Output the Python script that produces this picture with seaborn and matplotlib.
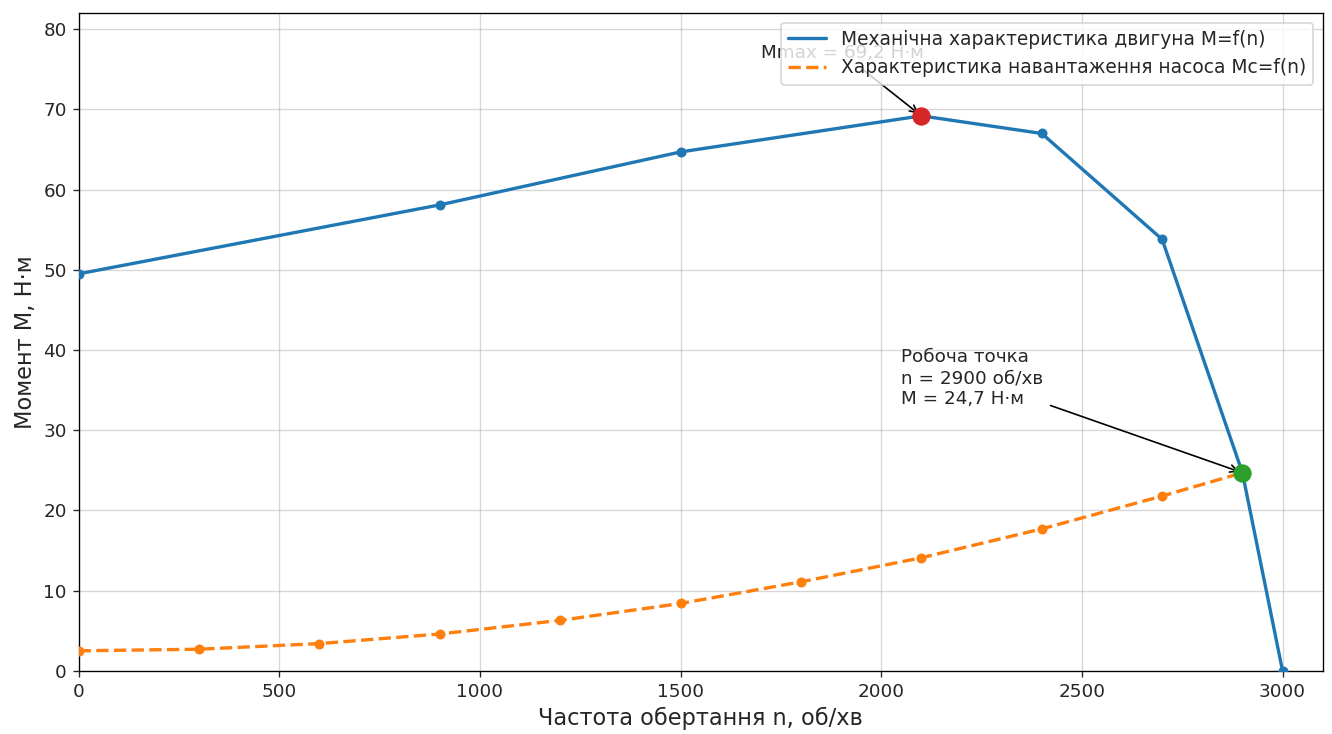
import numpy as np
import pandas as pd
import seaborn as sns
import matplotlib.pyplot as plt

# motor mechanical characteristic M=f(n)
n_motor = [0, 900, 1500, 2100, 2400, 2700, 2900, 3000]
m_motor = [49.5, 58.1, 64.7, 69.2, 67.0, 53.8, 24.7, 0.0]

# pump load characteristic Mc=f(n)
n_pump = [0, 300, 600, 900, 1200, 1500, 1800, 2100, 2400, 2700, 2900]
m_pump = [2.5, 2.7, 3.4, 4.6, 6.3, 8.4, 11.1, 14.1, 17.7, 21.8, 24.7]

n_max, m_max = 2100, 69.2
n_work, m_work = 2900, 24.7

sns.set_style("ticks")
plt.rcParams["font.family"] = ["DejaVu Sans"]

fig, ax = plt.subplots(figsize=(11.1, 6.117), dpi=120)
fig.subplots_adjust(left=0.059, right=0.993, top=0.982, bottom=0.086)

motor = pd.DataFrame({"n": n_motor, "M": m_motor})
pump = pd.DataFrame({"n": n_pump, "M": m_pump})

# lines (legend shows plain lines)
sns.lineplot(data=motor, x="n", y="M", ax=ax, color="#1f77b4", linewidth=2,
             label="Механічна характеристика двигуна M=f(n)")
sns.lineplot(data=pump, x="n", y="M", ax=ax, color="#ff7f0e", linewidth=2,
             linestyle="--", label="Характеристика навантаження насоса Mc=f(n)")
# markers
sns.scatterplot(data=motor, x="n", y="M", ax=ax, color="#1f77b4", s=36,
                linewidth=0, legend=False, zorder=3)
sns.scatterplot(data=pump, x="n", y="M", ax=ax, color="#ff7f0e", s=36,
                linewidth=0, legend=False, zorder=3)

ax.plot([n_max], [m_max], "o", color="#d62728", markersize=10, zorder=5)
ax.plot([n_work], [m_work], "o", color="#2ca02c", markersize=10, zorder=5)

ax.annotate("Mmax = 69,2 Н·м", xy=(n_max, m_max), xytext=(1700, 77),
            fontsize=11, va="center",
            arrowprops=dict(arrowstyle="->", color="black", lw=1))
ax.annotate("Робоча точка\nn = 2900 об/хв\nM = 24,7 Н·м",
            xy=(n_work, m_work), xytext=(2050, 36.5),
            fontsize=11, va="center",
            arrowprops=dict(arrowstyle="->", color="black", lw=1))

ax.set_xlim(0, 3100)
ax.set_ylim(0, 82)
ax.set_xlabel("Частота обертання n, об/хв", fontsize=13.5)
ax.set_ylabel("Момент M, Н·м", fontsize=13.5)
ax.tick_params(labelsize=11)
ax.grid(True, color="#b0b0b0", alpha=0.5, linewidth=0.8)
for s in ax.spines.values():
    s.set_color("black")
ax.legend(loc="upper right", fontsize=11.2)

fig.savefig("out.png", dpi=120)
